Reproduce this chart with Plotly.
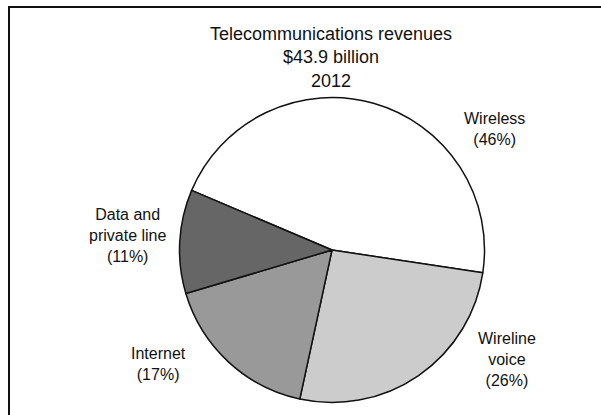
import plotly.graph_objects as go

# Revenue shares by segment (percent of total)
segments = ["Wireless", "Wireline voice", "Internet", "Data and private line"]
shares = [46, 26, 17, 11]
label_lines = [["Wireless"], ["Wireline", "voice"], ["Internet"], ["Data and", "private line"]]
title_lines = ["Telecommunications revenues", "$43.9 billion", "2012"]
fills = ["#ffffff", "#cccccc", "#999999", "#666666"]

W, H = 601, 415
FONT = "Arial, Liberation Sans, sans-serif"

fig = go.Figure(
    go.Pie(
        labels=segments,
        values=shares,
        sort=False,
        direction="clockwise",
        rotation=-67,
        marker=dict(colors=fills, line=dict(color="#111111", width=1.5)),
        textinfo="none",
        hoverinfo="label+percent",
        showlegend=False,
        domain=dict(x=[179.5 / W, 484.5 / W], y=[12.5 / H, 317.5 / H]),
    )
)

# Segment labels placed around the pie (pixel centres converted to paper coords)
label_pos = [(494, 129), (507, 359), (158, 364), (127, 235)]
annotations = []
for lines, val, (px, py) in zip(label_lines, shares, label_pos):
    annotations.append(
        dict(
            text="<br>".join(lines + [f"({val}%)"]),
            x=px / W,
            y=1 - py / H,
            xref="paper",
            yref="paper",
            xanchor="center",
            yanchor="middle",
            showarrow=False,
            align="center",
            font=dict(family=FONT, size=16, color="#111111"),
        )
    )

annotations.append(
    dict(
        text="<br>".join(title_lines),
        x=331 / W,
        y=1 - 57 / H,
        xref="paper",
        yref="paper",
        xanchor="center",
        yanchor="middle",
        showarrow=False,
        align="center",
        font=dict(family=FONT, size=18, color="#111111"),
    )
)

# Frame along the left and top edges
frame = dict(
    type="path",
    xref="paper",
    yref="paper",
    path=f"M {9 / W} 0 L {9 / W} {1 - 7 / H} L 1 {1 - 7 / H}",
    line=dict(color="#111111", width=2),
)

fig.update_layout(
    width=W,
    height=H,
    margin=dict(l=0, r=0, t=0, b=0),
    paper_bgcolor="white",
    plot_bgcolor="white",
    annotations=annotations,
    shapes=[frame],
)

fig.write_html("out.html")
